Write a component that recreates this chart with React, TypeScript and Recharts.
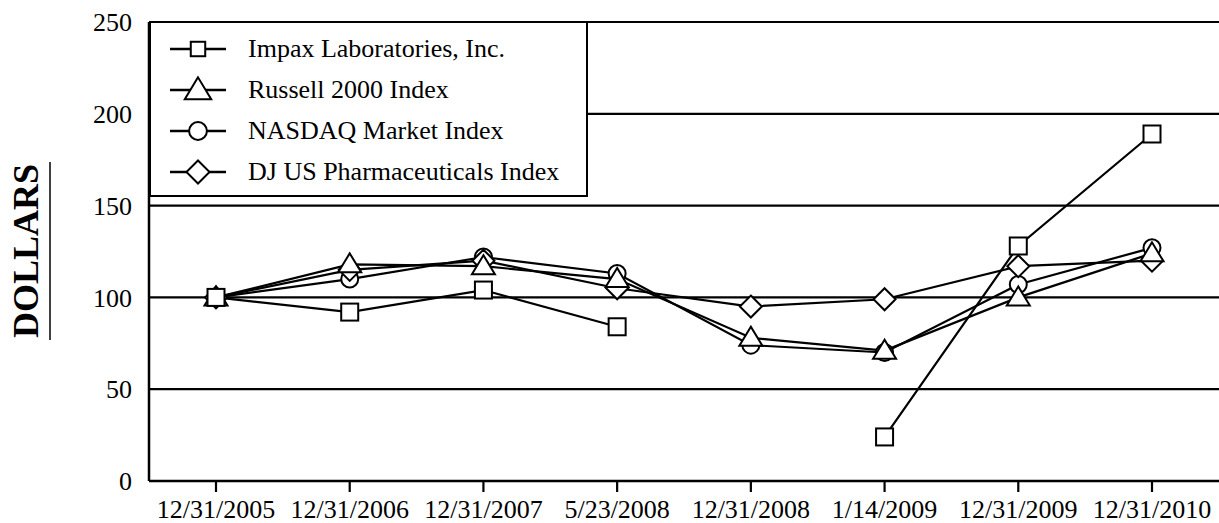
import React from 'react';
import { LineChart, Line, XAxis, YAxis, CartesianGrid, Legend } from 'recharts';

const categories = ['12/31/2005', '12/31/2006', '12/31/2007', '5/23/2008', '12/31/2008', '1/14/2009', '12/31/2009', '12/31/2010'];
const impax = [100, 92, 104, 84, null, 24, 128, 189];
const russell = [100, 118, 117, 110, 78, 71, 100, 124];
const nasdaq = [100, 110, 122, 113, 74, 70, 107, 127];
const djPharma = [100, 115, 120, 105, 95, 99, 117, 120];
const yTicks = [0, 50, 100, 150, 200, 250];

const seriesNames = {
  impax: 'Impax Laboratories, Inc.',
  russell: 'Russell 2000 Index',
  nasdaq: 'NASDAQ Market Index',
  dj: 'DJ US Pharmaceuticals Index',
};
const legendOrder = ['impax', 'russell', 'nasdaq', 'dj'];

const data = categories.map((c, i) => ({
  date: c,
  impax: impax[i],
  russell: russell[i],
  nasdaq: nasdaq[i],
  dj: djPharma[i],
}));

const FONT = "'Liberation Serif', 'Times New Roman', Times, serif";

function Marker({ kind, cx, cy, scale = 1 }: { kind: string; cx: number; cy: number; scale?: number }) {
  const common = { fill: '#fff', stroke: '#000', strokeWidth: 2 };
  if (kind === 'impax') {
    const s = 8.5 * scale;
    return <rect x={cx - s} y={cy - s} width={2 * s} height={2 * s} {...common} />;
  }
  if (kind === 'russell') {
    const w = 11.5 * scale;
    return <polygon points={`${cx},${cy - 11 * scale} ${cx - w},${cy + 8 * scale} ${cx + w},${cy + 8 * scale}`} {...common} />;
  }
  if (kind === 'nasdaq') {
    return <circle cx={cx} cy={cy} r={8.5 * scale} {...common} />;
  }
  const d = 11 * scale;
  return <polygon points={`${cx},${cy - d} ${cx + d},${cy} ${cx},${cy + d} ${cx - d},${cy}`} {...common} />;
}

const makeDot = (kind: string) => (props: any) => {
  const { cx, cy, index } = props;
  if (cx == null || cy == null || props.value == null || (Array.isArray(props.value) && props.value[1] == null)) {
    return <g key={`${kind}-${index}`} />;
  }
  return (
    <g key={`${kind}-${index}`}>
      <Marker kind={kind} cx={cx} cy={cy} />
    </g>
  );
};

const legendIcon = (kind: string) => {
  const sc = kind === 'impax' ? 0.85 : kind === 'russell' ? 1.15 : 1.05;
  return (
    <svg width={58} height={30} style={{ display: 'block' }}>
      <line x1={1} y1={15} x2={57} y2={15} stroke="#000" strokeWidth={2.5} />
      <Marker kind={kind} cx={29} cy={15} scale={sc} />
    </svg>
  );
};

const renderLegend = () => (
  <div
    style={{
      boxSizing: 'border-box',
      width: 439,
      height: 176,
      border: '2.5px solid #000',
      background: '#fff',
      paddingTop: 5,
      paddingLeft: 18,
      fontFamily: FONT,
      fontSize: 26,
      color: '#000',
    }}
  >
    {legendOrder.map((k) => (
      <div key={k} style={{ display: 'flex', alignItems: 'center', height: 41 }}>
        {legendIcon(k)}
        <span style={{ marginLeft: 21, whiteSpace: 'nowrap', lineHeight: '41px' }}>{(seriesNames as any)[k]}</span>
      </div>
    ))}
  </div>
);

const DollarsLabel = () => (
  <g>
    <text
      x={0}
      y={0}
      transform="translate(38, 251) rotate(-90)"
      textAnchor="middle"
      fontFamily={FONT}
      fontWeight="bold"
      fontSize={36}
      fill="#000"
    >
      DOLLARS
    </text>
    <line x1={50} y1={162} x2={50} y2={340} stroke="#000" strokeWidth={1.5} />
  </g>
);

export default function App() {
  return (
    <div style={{ position: 'absolute', left: 0, top: 0, width: 1219, height: 523, background: '#fff', overflow: 'hidden' }}>
      <LineChart width={1219} height={523} data={data} margin={{ top: 22, right: 0, bottom: 0, left: 0 }}>
        <CartesianGrid horizontal vertical={false} stroke="#000" strokeWidth={2.2} />
        <XAxis
          dataKey="date"
          height={42}
          padding={{ left: 67, right: 67 }}
          axisLine={{ stroke: '#000', strokeWidth: 2.5 }}
          tickLine={{ stroke: '#000', strokeWidth: 2.2 }}
          tickSize={11}
          tickMargin={8}
          interval={0}
          tick={{ fill: '#000', fontFamily: FONT, fontSize: 26 }}
        />
        <YAxis
          width={149}
          domain={[0, 250]}
          ticks={yTicks}
          axisLine={{ stroke: '#000', strokeWidth: 2.5 }}
          tickLine={false}
          tickSize={0}
          tickMargin={17}
          tick={{ fill: '#000', fontFamily: FONT, fontSize: 26 }}
          label={{ content: () => <DollarsLabel /> }}
        />
        <Legend
          content={renderLegend}
          layout="horizontal"
          verticalAlign="middle"
          align="center"
          wrapperStyle={{ position: 'absolute', left: 149, top: 21, width: 439, height: 176 }}
        />
        <Line dataKey="nasdaq" name={seriesNames.nasdaq} stroke="#000" strokeWidth={2.2} dot={makeDot('nasdaq')} isAnimationActive={false} />
        <Line dataKey="dj" name={seriesNames.dj} stroke="#000" strokeWidth={2.2} dot={makeDot('dj')} isAnimationActive={false} />
        <Line dataKey="russell" name={seriesNames.russell} stroke="#000" strokeWidth={2.2} dot={makeDot('russell')} isAnimationActive={false} />
        <Line dataKey="impax" name={seriesNames.impax} stroke="#000" strokeWidth={2.2} dot={makeDot('impax')} connectNulls={false} isAnimationActive={false} />
      </LineChart>
    </div>
  );
}
